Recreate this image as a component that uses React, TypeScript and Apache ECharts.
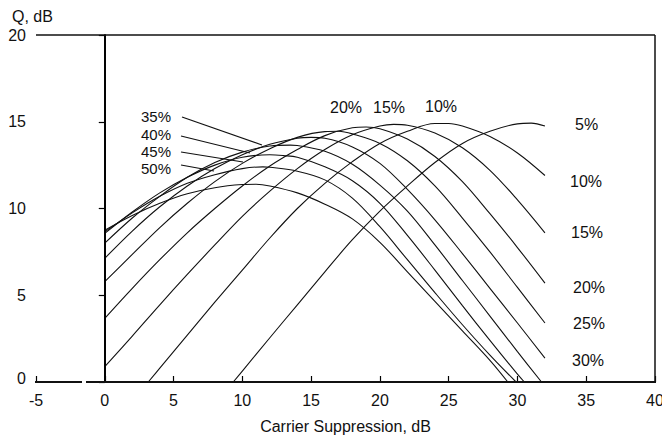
import React, { useEffect, useRef } from "react";
import * as echarts from "echarts";

// Q, dB versus carrier suppression, dB — one curve per modulation depth
const c5 = [[9.34,0],[10,0.63],[12,2.55],[14,4.45],[16,6.35],[18,8.2],[20,9.85],[22,11.3],[24,12.65],[26,13.75],[28,14.45],[30,14.88],[31,14.92],[32,14.75]];
const c10 = [[3.16,0],[4,0.8],[6,2.7],[8,4.6],[10,6.45],[12,8.3],[14,10.0],[16,11.45],[18,12.7],[20,13.75],[22,14.45],[24,14.9],[25,14.9],[26,14.75],[28,14.15],[30,13.2],[32,11.9]];
const c15 = [[0,0.88],[2,2.65],[4,4.45],[6,6.2],[8,7.9],[10,9.55],[12,11.0],[14,12.3],[16,13.4],[18,14.25],[20,14.75],[21,14.85],[22,14.8],[24,14.35],[26,13.5],[28,12.2],[30,10.5],[32,8.6]];
const c20 = [[0,3.67],[2,5.4],[4,7.05],[6,8.6],[8,10.0],[10,11.3],[12,12.45],[14,13.4],[16,14.2],[18,14.65],[19,14.7],[20,14.6],[22,14.0],[24,13.0],[26,11.55],[28,9.7],[30,7.75],[32,5.7]];
const c25 = [[0,5.78],[2,7.35],[4,8.9],[6,10.3],[8,11.55],[10,12.6],[12,13.45],[14,14.1],[16,14.43],[17,14.45],[18,14.3],[20,13.75],[22,12.75],[24,11.3],[26,9.45],[28,7.5],[30,5.45],[32,3.4]];
const c30 = [[0,7.13],[2,8.7],[4,10.1],[6,11.3],[8,12.3],[10,13.1],[12,13.7],[14,14.05],[15,14.1],[16,14.05],[18,13.55],[20,12.6],[22,11.1],[24,9.35],[26,7.4],[28,5.4],[30,3.4],[32,1.38]];
const c35 = [[0,8.0],[2,9.45],[4,10.7],[6,11.8],[8,12.65],[10,13.25],[12,13.6],[13.5,13.65],[14,13.63],[16,13.3],[18,12.55],[20,11.35],[22,9.85],[24,7.9],[26,5.85],[28,3.8],[30,1.75],[31.75,0]];
const c40 = [[0,8.57],[2,9.8],[4,10.9],[6,11.8],[8,12.5],[10,12.95],[12,13.1],[13,13.05],[14,12.95],[16,12.4],[18,11.6],[20,10.3],[22,8.45],[24,6.45],[26,4.4],[28,2.4],[30,0.45],[30.5,0]];
const c45 = [[0,8.65],[2,9.75],[4,10.7],[6,11.45],[8,11.95],[10,12.3],[11.5,12.4],[12,12.38],[14,12.15],[16,11.65],[18,10.6],[20,8.95],[22,7.05],[24,5.15],[26,3.3],[28,1.55],[29.9,0]];
const c50 = [[0,8.75],[2,9.6],[4,10.3],[6,10.85],[8,11.2],[10,11.38],[11,11.4],[12,11.3],[14,10.9],[16,10.25],[18,9.4],[20,8.05],[22,6.35],[24,4.65],[26,2.95],[28,1.25],[29.3,0]];

const curves = [c5, c10, c15, c20, c25, c30, c35, c40, c45, c50];
const curveNames = ["5%", "10%", "15%", "20%", "25%", "30%", "35%", "40%", "45%", "50%"];

const xTickMin = -5;
const xTickMax = 40;
const yTickMin = 0;
const yTickMax = 20;

const FONT = '"Liberation Sans", Arial, Helvetica, sans-serif';
const INK = "#111";

export default function App() {
  const ref = useRef<HTMLDivElement>(null);
  useEffect(() => {
    if (!ref.current) return;
    const chart = echarts.init(ref.current, null, { renderer: "svg" });

    const txt = (text: string, x: number, y: number, size = 16) => ({
      type: "text",
      x,
      y,
      z: 100,
      style: { text, fill: INK, fontSize: size, fontFamily: FONT, align: "left", verticalAlign: "middle" },
    });
    const ln = (x1: number, y1: number, x2: number, y2: number, w = 1.2) => ({
      type: "line",
      z: 100,
      shape: { x1, y1, x2, y2 },
      style: { stroke: INK, lineWidth: w },
    });

    const option: any = {
      animation: false,
      backgroundColor: "#fff",
      grid: {
        left: 36,
        right: 7,
        top: 35,
        bottom: 54,
        show: false,
        containLabel: false,
        outerBoundsMode: "none",
      },
      xAxis: {
        type: "value",
        min: xTickMin,
        max: xTickMax,
        interval: 5,
        name: "Carrier Suppression, dB",
        nameLocation: "middle",
        nameGap: 36,
        nameTextStyle: { color: INK, fontSize: 16, fontFamily: FONT },
        axisLine: { show: false },
        axisTick: { show: true, inside: true, length: 6, lineStyle: { color: "#000", width: 1.2 } },
        axisLabel: { color: INK, fontSize: 16, fontFamily: FONT, margin: 10 },
        splitLine: { show: false },
      },
      yAxis: {
        type: "value",
        min: yTickMin,
        max: yTickMax,
        interval: 5,
        axisLine: { show: true, lineStyle: { color: "#000", width: 1.8 } },
        axisTick: { show: true, inside: false, length: 6, lineStyle: { color: "#000", width: 1.2 } },
        axisLabel: {
          color: INK,
          fontSize: 16,
          fontFamily: FONT,
          margin: 10,
          formatter: (v: number) => (v === 0 ? "{z|0}" : String(v)),
          rich: { z: { color: INK, fontSize: 16, fontFamily: FONT, padding: [0, 0, 8, 0] } },
        },
        splitLine: { show: false },
      },
      series: curves.map((d, i) => ({
        type: "line",
        name: curveNames[i],
        data: d,
        showSymbol: false,
        symbol: "none",
        smooth: 0.35,
        lineStyle: { color: INK, width: 1.1 },
        silent: true,
        markLine:
          i === 0
            ? {
                silent: true,
                symbol: "none",
                label: { show: false },
                lineStyle: { color: "#000", width: 1.8, type: "solid" },
                data: [{ xAxis: 0 }],
              }
            : undefined,
      })),
      graphic: [
        // frame: top, right, and bottom axis with a small break
        ln(36, 35, 655, 35, 1.5),
        ln(655, 35, 655, 382, 1.5),
        ln(35, 382, 82, 382, 1.8),
        ln(86, 382, 656, 382, 1.8),
        txt("Q, dB", 12, 16),
        // right-hand labels
        txt("5%", 575, 124),
        txt("10%", 570, 181),
        txt("15%", 571, 232),
        txt("20%", 573, 287),
        txt("25%", 573, 323),
        txt("30%", 572, 360),
        // labels over the peaks
        txt("20%", 330, 107),
        txt("15%", 373, 107),
        txt("10%", 425, 106),
        // left labels with leaders
        txt("35%", 141, 116, 15),
        txt("40%", 141, 134, 15),
        txt("45%", 141, 151, 15),
        txt("50%", 141, 168, 15),
        ln(182, 117, 262, 145),
        ln(181, 136, 250, 153),
        ln(181, 152, 243, 162),
        ln(181, 165, 214, 171),
      ],
    };
    chart.setOption(option);
    return () => chart.dispose();
  }, []);
  return (
    <div
      ref={ref}
      style={{ position: "fixed", left: 0, top: 0, width: 662, height: 436, background: "#fff" }}
    />
  );
}
